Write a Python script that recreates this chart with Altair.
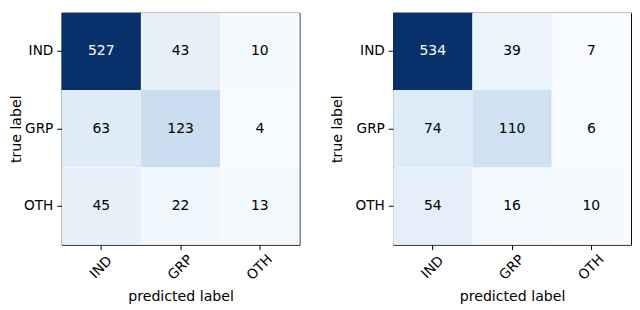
import altair as alt
import numpy as np
import pandas as pd

classes = ["IND", "GRP", "OTH"]
left_cm = [[527, 43, 10], [63, 123, 4], [45, 22, 13]]
right_cm = [[534, 39, 7], [74, 110, 6], [54, 16, 10]]

blues = ["#f7fbff", "#deebf7", "#c6dbef", "#9ecae1", "#6baed6",
         "#4292c6", "#2171b5", "#08519c", "#08306b"]

FONT = "DejaVu Sans"


def panel(cm, tpad):
    rows = []
    for i, t in enumerate(classes):
        for j, p in enumerate(classes):
            rows.append({"true": t, "pred": p, "v": cm[i][j]})
    df = pd.DataFrame(rows)
    vals = [v for r in cm for v in r]
    vmin, vmax = min(vals), max(vals)
    dom = list(np.linspace(vmin, vmax, len(blues)))
    thresh = vmax / 2.0
    base = alt.Chart(df).encode(
        x=alt.X("pred:N", sort=classes,
                scale=alt.Scale(paddingInner=0, paddingOuter=0),
                axis=alt.Axis(title="predicted label", labelAngle=315,
                              labelAlign="center", labelBaseline="middle",
                              labelPadding=18, titlePadding=8)),
        y=alt.Y("true:N", sort=classes,
                scale=alt.Scale(paddingInner=0, paddingOuter=0),
                axis=alt.Axis(title="true label", labelPadding=4,
                              titlePadding=tpad)),
    )
    rect = base.mark_rect().encode(
        color=alt.Color("v:Q", scale=alt.Scale(domain=dom, range=blues),
                        legend=None)
    )
    text = base.mark_text(font=FONT, fontSize=14.3, baseline="middle").encode(
        text="v:Q",
        color=alt.condition(alt.datum.v > thresh, alt.value("white"),
                            alt.value("black")),
    )
    return alt.layer(rect, text).properties(width=244, height=238)


chart = alt.hconcat(panel(left_cm, 0), panel(right_cm, 11), spacing=29).resolve_scale(
    color="independent"
).properties(
    padding={"left": 0, "top": 0, "right": 0, "bottom": 0}
).configure_view(
    stroke="black", strokeWidth=1
).configure_axis(
    labelFont=FONT, labelFontSize=14, labelColor="black",
    titleFont=FONT, titleFontSize=14.5, titleFontWeight="normal",
    titleColor="black", tickColor="black", tickSize=5, domain=False,
    grid=False,
)

chart.save("out.html", embed_options={"renderer": "svg", "actions": False})
